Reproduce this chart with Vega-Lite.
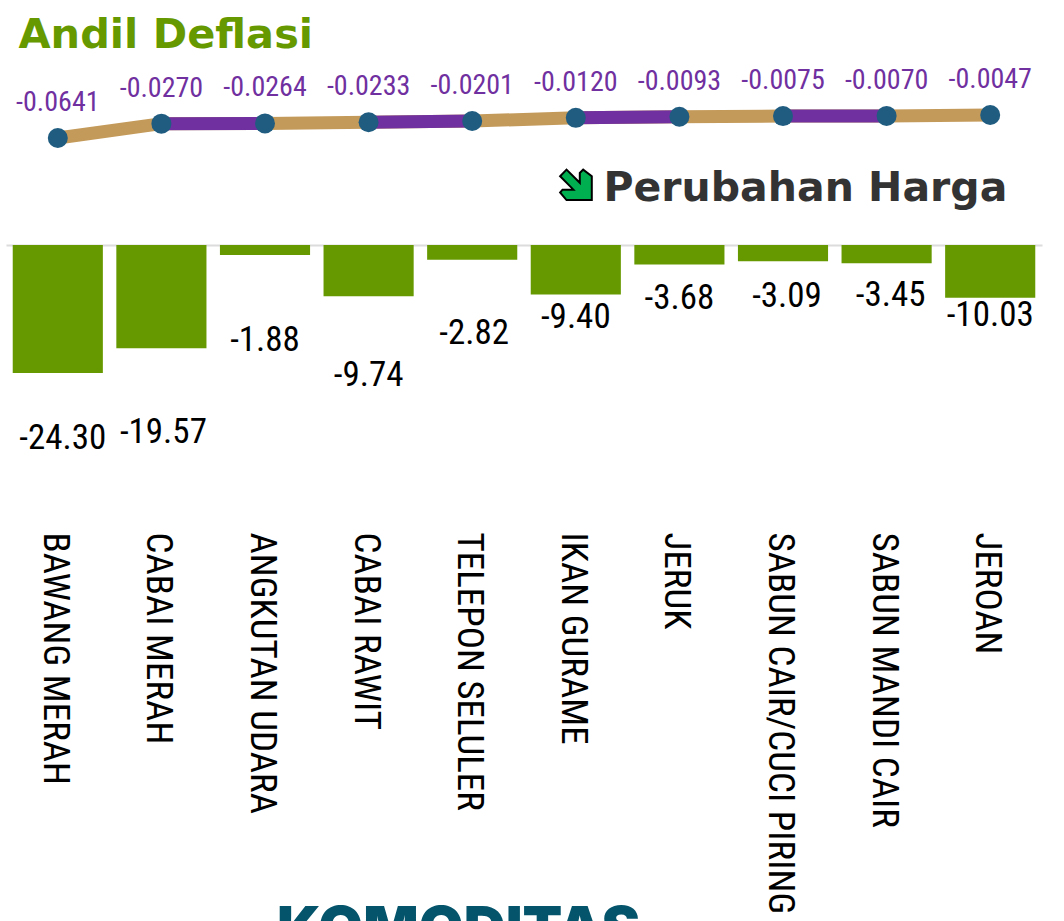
{
"$schema":"https://vega.github.io/schema/vega-lite/v6.json",
"width":1064,"height":921,"padding":0,"autosize":"none","background":"white",
"config":{"view":{"stroke":null},"locale":{"number":{"decimal":".","thousands":",","grouping":[3],"currency":["$",""],"minus":"-"}}},
"data":{"values":[
{"komoditas":"BAWANG MERAH","andil":-0.0641,"perubahan":-24.30},
{"komoditas":"CABAI MERAH","andil":-0.0270,"perubahan":-19.57,"segmen":"a"},
{"komoditas":"ANGKUTAN UDARA","andil":-0.0264,"perubahan":-1.88,"segmen":"a"},
{"komoditas":"CABAI RAWIT","andil":-0.0233,"perubahan":-9.74,"segmen":"b"},
{"komoditas":"TELEPON SELULER","andil":-0.0201,"perubahan":-2.82,"segmen":"b"},
{"komoditas":"IKAN GURAME","andil":-0.0120,"perubahan":-9.40,"segmen":"c"},
{"komoditas":"JERUK","andil":-0.0093,"perubahan":-3.68,"segmen":"c"},
{"komoditas":"SABUN CAIR/CUCI PIRING","andil":-0.0075,"perubahan":-3.09,"segmen":"d"},
{"komoditas":"SABUN MANDI CAIR","andil":-0.0070,"perubahan":-3.45,"segmen":"d"},
{"komoditas":"JEROAN","andil":-0.0047,"perubahan":-10.03}
]},
"encoding":{"x":{"field":"komoditas","type":"nominal","sort":null,
 "scale":{"range":[6,1042],"paddingInner":0.13,"paddingOuter":0.065},
 "axis":{"title":"KOMODITAS","orient":"bottom","offset":-676,"ticks":false,"domain":true,"domainColor":"#dcdcdc","domainWidth":2,
 "labelAngle":90,"labelAlign":"left","labelBaseline":"middle","labelPadding":287,"labelOffset":-3,"labelFont":"Roboto Condensed","labelFontSize":37,"labelColor":"#000000","labelLimit":500,"labelOverlap":false,
 "titleFont":"Inter","titleFontWeight":900,"titleFontSize":58,"titleColor":"#04546b","titleX":458,"titleY":702,"titleAlign":"center","titleBaseline":"alphabetic"}}},
"layer":[
{"encoding":{"y":{"field":"andil","type":"quantitative","scale":{"domain":[-2.0873,0.2925],"nice":false,"zero":false},
 "axis":{"title":"Andil Deflasi","orient":"left","labels":false,"ticks":false,"domain":false,"grid":false,"titleFont":"DejaVu Sans","titleFontWeight":"bold","titleFontSize":41.5,"titleColor":"#669900","titleAngle":0,"titleAlign":"left","titleBaseline":"alphabetic","titleX":18,"titleY":47}}},
 "layer":[
 {"mark":{"type":"line","color":"#c49a5a","strokeWidth":13,"strokeCap":"butt"}},
 {"transform":[{"filter":"datum.segmen != null"}],"mark":{"type":"line","color":"#7030a0","strokeWidth":13,"strokeCap":"butt"},"encoding":{"detail":{"field":"segmen"}}},
 {"mark":{"type":"point","filled":true,"opacity":1,"color":"#1f5c80","size":400}},
 {"mark":{"type":"text","font":"Roboto Condensed","fontSize":28,"color":"#7030a0","dy":-35},"encoding":{"text":{"field":"andil","type":"quantitative","format":".4f"}}},
 {"transform":[{"filter":"datum.komoditas == 'IKAN GURAME'"}],"mark":{"type":"point","filled":true,"opacity":1,"fill":"#00b050","stroke":"#000000","strokeWidth":2,"size":1024,"shape":"M1,0.94 L-0.58,0.94 L-0.98,0.47 L-0.83,0.29 L-0.15,0.29 L-0.98,-0.55 L-0.58,-0.96 L0.25,-0.14 L0.25,-0.75 L0.46,-0.96 L1,-0.55 Z"},"encoding":{"y":{"datum":-0.1855}}}
 ]},
{"encoding":{"y":{"field":"perubahan","type":"quantitative","scale":{"domain":[-128.27,46.49],"nice":false,"zero":false},
 "axis":{"title":"Perubahan Harga","orient":"left","labels":false,"ticks":false,"domain":false,"grid":false,"titleFont":"DejaVu Sans","titleFontWeight":"bold","titleFontSize":41,"titleColor":"#333333","titleAngle":0,"titleAlign":"left","titleBaseline":"alphabetic","titleX":603,"titleY":200}}},
 "layer":[
 {"mark":{"type":"bar","color":"#669900"},"encoding":{"y2":{"datum":0}}},
 {"transform":[{"filter":"datum.komoditas == 'BAWANG MERAH'"}],"mark":{"type":"text","font":"Roboto Condensed","fontSize":35,"color":"#000000","dy":65,"dx":5},"encoding":{"text":{"field":"perubahan","type":"quantitative","format":".2f"}}},
 {"transform":[{"filter":"datum.komoditas == 'CABAI MERAH'"}],"mark":{"type":"text","font":"Roboto Condensed","fontSize":35,"color":"#000000","dy":84,"dx":2},"encoding":{"text":{"field":"perubahan","type":"quantitative","format":".2f"}}},
 {"transform":[{"filter":"datum.komoditas == 'ANGKUTAN UDARA'"}],"mark":{"type":"text","font":"Roboto Condensed","fontSize":35,"color":"#000000","dy":85},"encoding":{"text":{"field":"perubahan","type":"quantitative","format":".2f"}}},
 {"transform":[{"filter":"datum.komoditas == 'CABAI RAWIT'"}],"mark":{"type":"text","font":"Roboto Condensed","fontSize":35,"color":"#000000","dy":79},"encoding":{"text":{"field":"perubahan","type":"quantitative","format":".2f"}}},
 {"transform":[{"filter":"datum.komoditas == 'TELEPON SELULER'"}],"mark":{"type":"text","font":"Roboto Condensed","fontSize":35,"color":"#000000","dy":73,"dx":2},"encoding":{"text":{"field":"perubahan","type":"quantitative","format":".2f"}}},
 {"transform":[{"filter":"datum.komoditas == 'IKAN GURAME'"}],"mark":{"type":"text","font":"Roboto Condensed","fontSize":35,"color":"#000000","dy":22},"encoding":{"text":{"field":"perubahan","type":"quantitative","format":".2f"}}},
 {"transform":[{"filter":"datum.komoditas == 'JERUK'"}],"mark":{"type":"text","font":"Roboto Condensed","fontSize":35,"color":"#000000","dy":34},"encoding":{"text":{"field":"perubahan","type":"quantitative","format":".2f"}}},
 {"transform":[{"filter":"datum.komoditas == 'SABUN CAIR/CUCI PIRING'"}],"mark":{"type":"text","font":"Roboto Condensed","fontSize":35,"color":"#000000","dy":35,"dx":4},"encoding":{"text":{"field":"perubahan","type":"quantitative","format":".2f"}}},
 {"transform":[{"filter":"datum.komoditas == 'SABUN MANDI CAIR'"}],"mark":{"type":"text","font":"Roboto Condensed","fontSize":35,"color":"#000000","dy":32,"dx":4},"encoding":{"text":{"field":"perubahan","type":"quantitative","format":".2f"}}},
 {"transform":[{"filter":"datum.komoditas == 'JEROAN'"}],"mark":{"type":"text","font":"Roboto Condensed","fontSize":35,"color":"#000000","dy":17},"encoding":{"text":{"field":"perubahan","type":"quantitative","format":".2f"}}}
 ]}
],
"resolve":{"scale":{"y":"independent"},"axis":{"y":"independent"}}
}
